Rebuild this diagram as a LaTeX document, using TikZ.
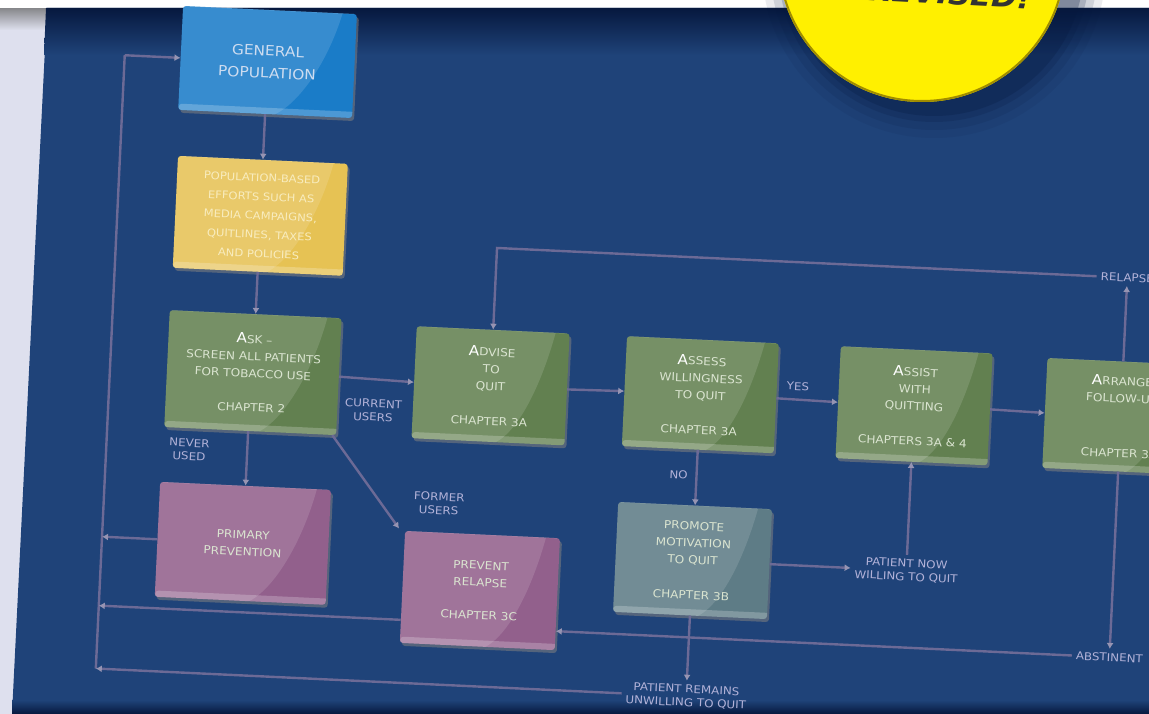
\documentclass[tikz,border=0pt]{standalone}
\usepackage{fontspec}
\newfontfamily\pfont[FakeStretch=1.1]{DejaVu Sans}
\usetikzlibrary{arrows.meta,shadows}
\definecolor{poster}{RGB}{31,67,121}
\definecolor{navy}{RGB}{6,24,62}
\definecolor{side}{RGB}{222,224,238}
\definecolor{conn}{RGB}{108,106,150}
\definecolor{tipc}{RGB}{150,148,178}
\definecolor{gpblue}{RGB}{26,124,200}
\definecolor{gptext}{RGB}{205,220,240}
\definecolor{ybox}{RGB}{230,194,84}
\definecolor{gbox}{RGB}{98,128,80}
\definecolor{pbox}{RGB}{146,96,140}
\definecolor{tbox}{RGB}{94,124,134}
\definecolor{btext}{RGB}{218,228,208}
\definecolor{ltext}{RGB}{178,178,216}
\definecolor{ytext}{RGB}{248,236,190}
\definecolor{sun}{RGB}{255,240,0}
\definecolor{sunedge}{RGB}{160,140,0}
\newcommand\capA[1]{{\fontsize{14}{14}\selectfont\color{white}#1}}
\begin{document}
\begin{tikzpicture}[x=1pt,y=-1pt,
  card/.style={rectangle, rounded corners=3pt, inner sep=2pt, align=center, text=btext,
    font=\pfont\fontsize{11}{17}\selectfont,
    drop shadow={opacity=0.55, shadow xshift=2pt, shadow yshift=-3pt},
    path picture={
      \fill[white,opacity=0.13] (path picture bounding box.north west) -- ([xshift=-12pt]path picture bounding box.north east) .. controls ([xshift=-30pt,yshift=-10pt]path picture bounding box.east) and ([xshift=20pt]path picture bounding box.south) .. ([xshift=-10pt]path picture bounding box.south) -- (path picture bounding box.south west) -- cycle;
      \fill[white,opacity=0.22] (path picture bounding box.south west) rectangle ([yshift=6pt]path picture bounding box.south east);
      \fill[white,opacity=0.2] (path picture bounding box.north west) rectangle ([yshift=-3pt]path picture bounding box.north east);
    }},
  lab/.style={text=ltext, font=\pfont\fontsize{10.8}{13.5}\selectfont, align=center, inner sep=4pt},
  link/.style={draw=conn, line width=2.4pt},
  arr/.style={link, -{Latex[length=6pt,width=7pt,color=tipc,fill=tipc]}}
]
\clip (0,0) rectangle (1149,714);
% background
\fill[side] (0,0) rectangle (1149,714);
\shade[top color=gray!80!black, bottom color=side] (0,0) rectangle (47,30);
\fill[white] (0,0) rectangle (1149,8);
\fill[poster] (47,8) -- (1149,8) -- (1149,714) -- (12,714) -- cycle;
\shade[top color=navy, bottom color=poster] (46,8) -- (1149,8) -- (1149,55) -- (44,55) -- cycle;
\shade[top color=poster, bottom color=navy] (12,700) rectangle (1149,714);
% sticker
\foreach \r/\o in {172/0.08,164/0.12,156/0.18,150/0.25}{
  \fill[navy,opacity=\o] (934,-34) circle (\r);
}
\fill[sun] (922,-42) circle (144);
\draw[sunedge, line width=2pt] (922,-42) circle (143);
\begin{scope}
  \clip (922,-42) circle (142);
  \node[anchor=base east, font=\pfont\bfseries\itshape\fontsize{28}{28}\selectfont, text=black!80, rotate=-3] (badge) at (1034,9) {REVISED!};
\end{scope}
% chart
\begin{scope}[rotate around={-2.7:(600,400)}, transform shape]
  \node[card, fill=gpblue, minimum width=174pt, minimum height=104pt, text=gptext,
        font=\pfont\fontsize{14}{22}\selectfont] (gp) at (252,78) {GENERAL\\POPULATION};
  \node[card, fill=ybox, minimum width=170pt, minimum height=112pt, text=ytext,
        font=\pfont\fontsize{10.5}{19}\selectfont] (yb) at (252,232)
        {POPULATION-BASED\\EFFORTS SUCH AS\\MEDIA CAMPAIGNS,\\QUITLINES, TAXES\\AND POLICIES};
  \node[card, fill=gbox, minimum width=172pt, minimum height=117pt] (ask) at (252,389)
        {\capA{A}SK –\\SCREEN ALL PATIENTS\\FOR TOBACCO USE\\[17pt]CHAPTER 2};
  \node[card, fill=gbox, minimum width=153pt, minimum height=112pt] (adv) at (490,391)
        {\capA{A}DVISE\\TO\\QUIT\\[18pt]CHAPTER 3A};
  \node[card, fill=gbox, minimum width=152pt, minimum height=110pt] (ass) at (700,390)
        {\capA{A}SSESS\\WILLINGNESS\\TO QUIT\\[18pt]CHAPTER 3A};
  \node[card, fill=gbox, minimum width=152pt, minimum height=112pt] (ast) at (914,391)
        {\capA{A}SSIST\\WITH\\QUITTING\\[18pt]CHAPTERS 3A \& 4};
  \node[card, fill=gbox, minimum width=152pt, minimum height=110pt] (arr) at (1121,392)
        {\capA{A}RRANGE\\FOLLOW-UP\\[38pt]CHAPTER 3A};
  \node[card, fill=pbox, minimum width=171pt, minimum height=115pt] (pp) at (250,560)
        {PRIMARY\\PREVENTION};
  \node[card, fill=pbox, minimum width=155pt, minimum height=112pt] (pr) at (489,596)
        {PREVENT\\RELAPSE\\[16pt]CHAPTER 3C};
  \node[card, fill=tbox, minimum width=154pt, minimum height=110pt] (pm) at (700,556)
        {PROMOTE\\MOTIVATION\\TO QUIT\\[18pt]CHAPTER 3B};
  % labels
  \node[lab] (lcur) at (374,421) {CURRENT\\USERS};
  \node[lab] (lnev) at (192,469) {NEVER\\USED};
  \node[lab] (lfor) at (444,511) {FORMER\\USERS};
  \node[lab] (lyes) at (797,377) {YES};
  \node[lab] (lno)  at (682,471) {NO};
  \node[lab] (lnow) at (914,556) {PATIENT NOW\\WILLING TO QUIT};
  \node[lab] (lrem) at (700,692) {PATIENT REMAINS\\UNWILLING TO QUIT};
  \node[lab] (lrel) at (1121,253) {RELAPSE};
  \node[lab] (labs) at (1121,633) {ABSTINENT};
  % rail coordinates
  \coordinate (L0) at (109,78);
  \coordinate (L2) at (109,629);
  % connectors
  \draw[arr] (gp.south) -- (yb.north);
  \draw[arr] (yb.south) -- (ask.north);
  \draw[arr] (ask.east) -- (adv.west);
  \draw[arr] (adv.east) -- (ass.west);
  \draw[arr] (ass.east) -- (ast.west);
  \draw[arr] (ast.east) -- (arr.west);
  \draw[arr] (ask.south -| pp.north) -- (pp.north);
  \draw[arr] ([xshift=-4pt]ask.south east) -- ([xshift=-6pt,yshift=2pt]pr.north west);
  \draw[arr] (ass.south) -- (pm.north);
  \draw[arr] (pm.east) -- (lnow.west);
  \draw[arr] (lnow.north) -- (ast.south);
  \draw[arr] (pm.south) -- (lrem.north);
  \draw[arr] (arr.north) -- (lrel.south);
  \draw[arr] (lrel.west) -| (adv.north);
  \draw[arr] (arr.south) -- (labs.north);
  \draw[arr] (labs.west) -- (labs.west -| pr.east);
  \draw[link] (lrem.west -| L0) -- (L0);
  \draw[arr] (L0) -- (gp.west);
  \draw[arr] (pp.west) -- (pp.west -| L0);
  \draw[arr] (pr.west |- L2) -- (L2);
  \draw[arr] (lrem.west) -- (lrem.west -| L0);
\end{scope}
\end{tikzpicture}
\end{document}
